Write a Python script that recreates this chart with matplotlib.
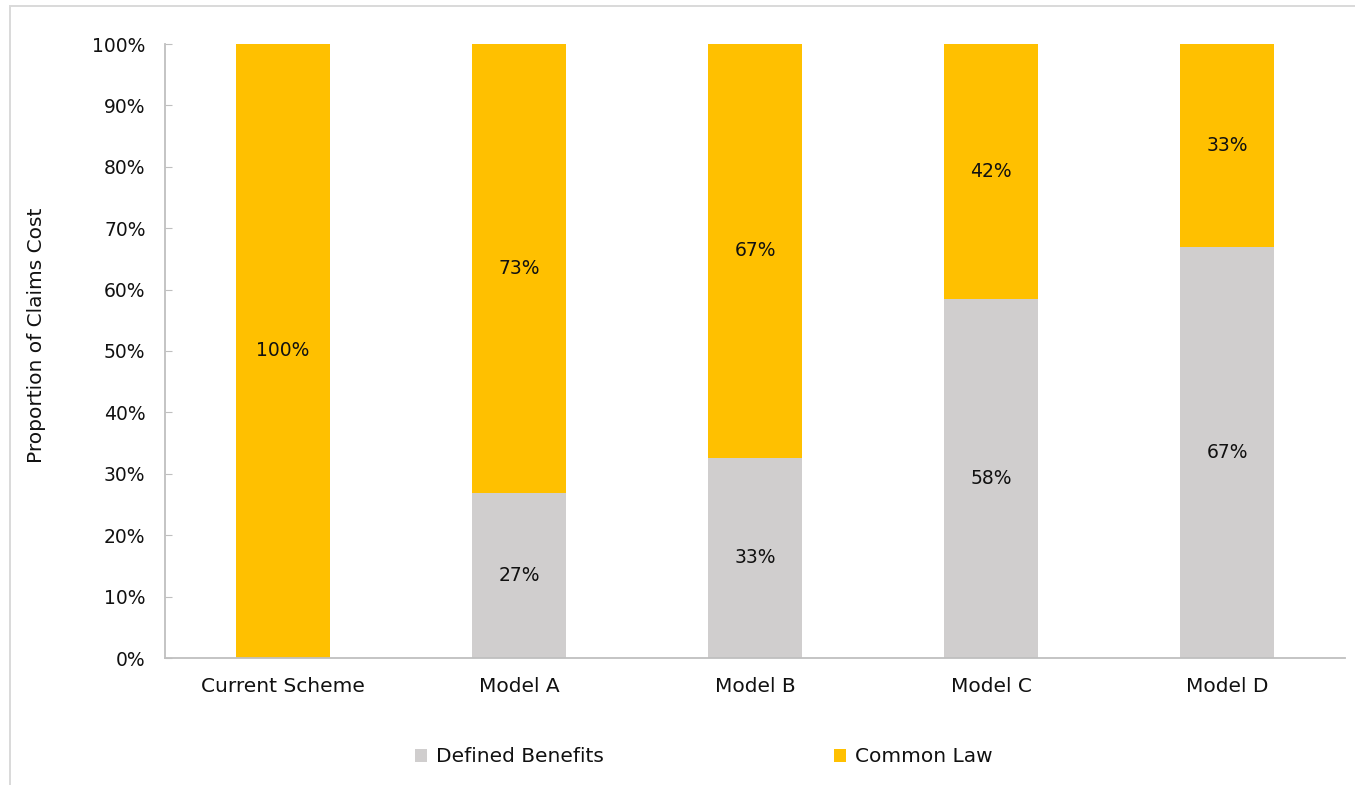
import matplotlib
matplotlib.use("Agg")
import matplotlib.pyplot as plt
from matplotlib.patches import Rectangle
from matplotlib.ticker import FuncFormatter, MultipleLocator

categories = ["Current Scheme", "Model A", "Model B", "Model C", "Model D"]
defined_benefits = [0.0, 26.9, 32.6, 58.4, 66.9]
common_law = [100.0, 73.1, 67.4, 41.6, 33.1]

grey = "#d0cece"
gold = "#ffc000"
axis_grey = "#bfbfbf"
ink = "#111111"

plt.rcParams["font.family"] = ["DejaVu Sans"]

fig = plt.figure(figsize=(13.55, 7.85), dpi=100)
# light outer chart frame (only top and left edges fall inside the image)
fig.patches.append(Rectangle((9.5 / 1355, -0.05), 1.2, (785 - 5.5) / 785 + 0.05,
                             transform=fig.transFigure, fill=False,
                             edgecolor="#d9d9d9", linewidth=1.4))

ax = fig.add_axes([165 / 1355, 1 - 658 / 785, 1180 / 1355, 614 / 785])

x = range(len(categories))
width = 0.4
b1 = ax.bar(x, defined_benefits, width, color=grey, label="Defined Benefits")
b2 = ax.bar(x, common_law, width, bottom=defined_benefits, color=gold, label="Common Law")

for i, (d, c) in enumerate(zip(defined_benefits, common_law)):
    if d > 0:
        ax.text(i, d / 2, f"{d:.0f}%", ha="center", va="center", fontsize=13.5, color=ink)
    if c > 0:
        ax.text(i, d + c / 2, f"{c:.0f}%", ha="center", va="center", fontsize=13.5, color=ink)

ax.set_xlim(-0.5, len(categories) - 0.5)
ax.set_ylim(0, 100)
ax.yaxis.set_major_locator(MultipleLocator(10))
ax.yaxis.set_major_formatter(FuncFormatter(lambda v, p: f"{v:.0f}%"))
ax.set_xticks(list(x))
ax.set_xticklabels(categories)

for side in ("top", "right"):
    ax.spines[side].set_visible(False)
for side in ("left", "bottom"):
    ax.spines[side].set_color(axis_grey)
    ax.spines[side].set_linewidth(1.3)

ax.tick_params(axis="y", direction="in", length=5, color=axis_grey, labelsize=13.5,
               labelcolor=ink, pad=14)
ax.tick_params(axis="x", length=0, labelsize=14.5, labelcolor=ink, pad=14)

ax.set_ylabel("Proportion of Claims Cost", fontsize=14.5, color=ink)
ax.yaxis.set_label_coords(-0.101, 0.525)

fig.legend(handles=[b1, b2], loc="center", bbox_to_anchor=(704 / 1355, 1 - 757 / 785),
           ncol=2, frameon=False, fontsize=14.5, handlelength=0.6, handleheight=0.6,
           handletextpad=0.45, columnspacing=11.4, labelcolor=ink)

fig.savefig("out.png", dpi=100)
